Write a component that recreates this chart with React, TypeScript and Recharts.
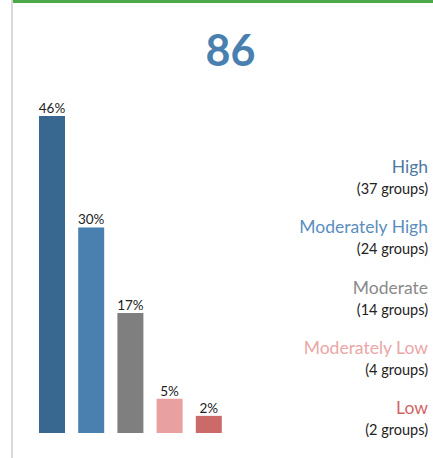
import { BarChart, Bar, XAxis, YAxis, Cell, LabelList } from "recharts";

const levels = ["High", "Moderately High", "Moderate", "Moderately Low", "Low"];
const groupCounts = [37, 24, 14, 4, 2];
const percentLabels = ["46%", "30%", "17%", "5%", "2%"];
const barColors = ["#386890", "#4a80b0", "#7f7f7f", "#e8a0a0", "#cc6a6a"];
const textColors = ["#4d79a2", "#5a8ec0", "#8a8a8a", "#eba6a6", "#d06464"];
const total = 86;

const chartData = levels.map((level, i) => ({
    level,
    groups: groupCounts[i],
    label: percentLabels[i],
}));

export default function App() {
    return (
        <div
            style={{
                position: "fixed",
                left: 0,
                top: 0,
                width: 433,
                height: 458,
                background: "#fff",
                fontFamily: "Lato, sans-serif",
                overflow: "hidden",
            }}
        >
            <div style={{ position: "absolute", left: 12, top: 0, width: 421, height: 3, background: "#4aa84a" }} />
            <div style={{ position: "absolute", left: 11, top: 0, width: 2, height: 458, background: "#d9d9d9" }} />
            <div
                style={{
                    position: "absolute",
                    left: 0,
                    width: 461,
                    top: 22,
                    textAlign: "center",
                    fontSize: 43,
                    fontWeight: 700,
                    color: "#4a80b0",
                    lineHeight: "56px",
                }}
            >
                {total}
            </div>
            <div style={{ position: "absolute", left: 0, top: 0 }}>
                <BarChart
                    width={433}
                    height={458}
                    data={chartData}
                    margin={{ top: 116, right: 205, bottom: 25, left: 32 }}
                    barCategoryGap={0}
                >
                    <XAxis dataKey="level" hide />
                    <YAxis hide domain={[0, 37]} />
                    <Bar dataKey="groups" barSize={26} isAnimationActive={false}>
                        {chartData.map((d, i) => (
                            <Cell key={d.level} fill={barColors[i]} />
                        ))}
                        <LabelList
                            dataKey="label"
                            position="top"
                            offset={3}
                            fill="#222"
                            fontSize={13.5}
                            fontFamily="Lato, sans-serif"
                        />
                    </Bar>
                </BarChart>
            </div>
            {levels.map((level, i) => (
                <div
                    key={level}
                    style={{
                        position: "absolute",
                        right: 5,
                        top: 155 + i * 60.3,
                        textAlign: "right",
                    }}
                >
                    <div style={{ fontSize: 17.5, color: textColors[i], lineHeight: "23px" }}>{level}</div>
                    <div style={{ fontSize: 14.5, color: "#222", lineHeight: "21px" }}>
                        ({groupCounts[i]} groups)
                    </div>
                </div>
            ))}
        </div>
    );
}
